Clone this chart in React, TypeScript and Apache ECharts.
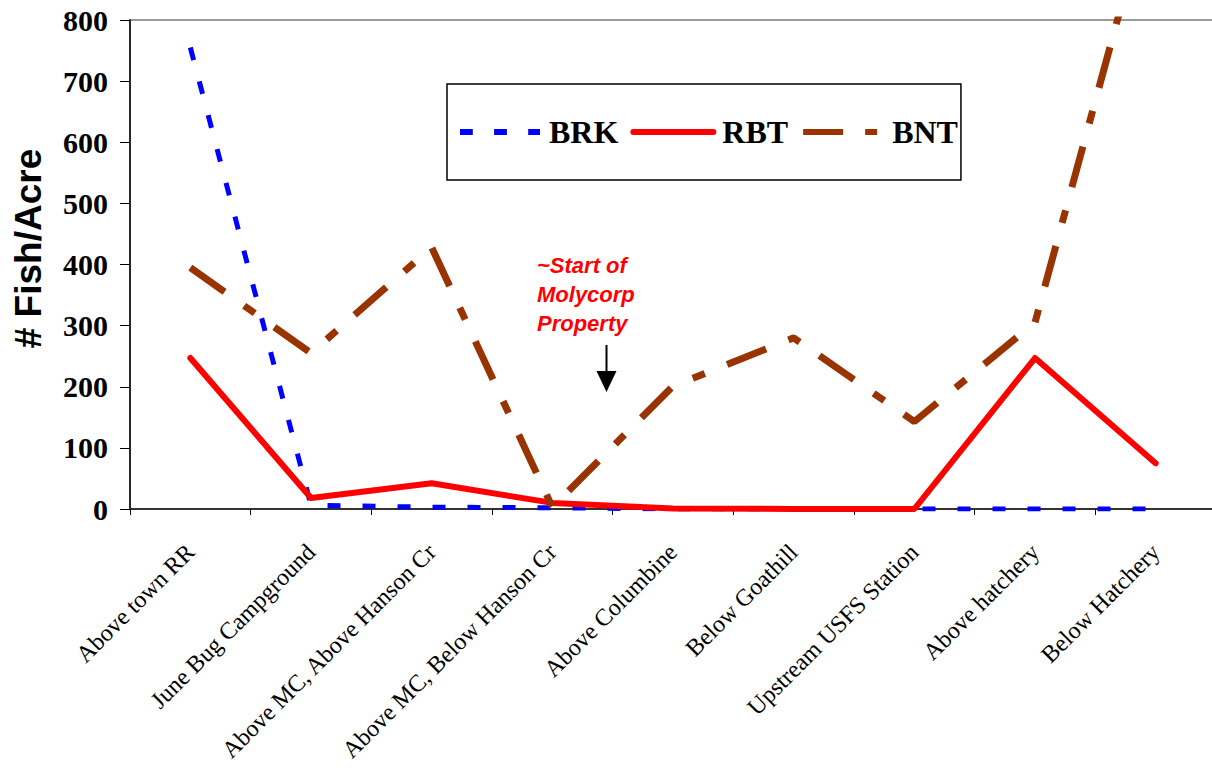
import React, { useEffect, useRef } from "react";
import * as echarts from "echarts";

const categories = [
  "Above town RR",
  "June Bug Campground",
  "Above MC, Above Hanson Cr",
  "Above MC, Below Hanson Cr",
  "Above Columbine",
  "Below Goathill",
  "Upstream USFS Station",
  "Above hatchery",
  "Below Hatchery",
];

const brkValues = [755, 6, 3, 2, 0, 0, 0, 0, 0];
const rbtValues = [247, 18, 42, 10, 1, 0, 0, 247, 75];
const bntValues = [395, 255, 428, 3, 201, 280, 143, 305, 1030];

const seriesNames = ["BRK", "RBT", "BNT"];
const yTicks = { min: 0, max: 800, interval: 100 };
const yTitle = "# Fish/Acre";
const annotation = "~Start of\nMolycorp\nProperty";

const BLUE = "#0000ff";
const RED = "#ff0000";
const BROWN = "#993300";

export default function App() {
  const ref = useRef<HTMLDivElement>(null);

  useEffect(() => {
    if (!ref.current) return;
    const chart = echarts.init(ref.current, undefined, { renderer: "svg" });
    const option: any = {
      animation: false,
      backgroundColor: "#ffffff",
      grid: {
        left: 130,
        top: 20,
        width: 1086,
        height: 489,
        containLabel: false,
        outerBoundsMode: "none",
        show: true,
        borderColor: "#9a9a9a",
        borderWidth: 2,
        backgroundColor: "transparent",
      },
      xAxis: {
        type: "category",
        data: categories,
        boundaryGap: true,
        axisLine: { show: true, lineStyle: { color: "#333", width: 2 } },
        axisTick: { show: true, length: 6, lineStyle: { color: "#000", width: 1 } },
        axisLabel: {
          rotate: 45,
          interval: 0,
          margin: 39,
          fontFamily: "Liberation Serif",
          fontSize: 24,
          color: "#000",
        },
        splitLine: { show: false },
      },
      yAxis: {
        type: "value",
        min: yTicks.min,
        max: yTicks.max,
        interval: yTicks.interval,
        axisLine: { show: true, lineStyle: { color: "#000", width: 1.5 } },
        axisTick: { show: true, length: 10, lineStyle: { color: "#000", width: 1 } },
        axisLabel: {
          margin: 22,
          fontFamily: "Liberation Serif",
          fontWeight: "bold",
          fontSize: 30,
          color: "#000",
        },
        splitLine: { show: false },
      },
      legend: {
        left: 447,
        top: 84,
        orient: "horizontal",
        padding: [32, 3, 32, 10],
        itemWidth: 80,
        itemHeight: 14,
        itemGap: 12,
        borderColor: "#000",
        borderWidth: 1.5,
        backgroundColor: "#fff",
        textStyle: {
          fontFamily: "Liberation Serif",
          fontWeight: "bold",
          fontSize: 32,
          color: "#000",
          padding: [0, 0, 0, 4],
        },
        data: [
          {
            name: seriesNames[0],
            lineStyle: { width: 6, color: BLUE, type: [12.8, 21.3], cap: "butt" },
            itemStyle: { opacity: 0 },
          },
          {
            name: seriesNames[1],
            lineStyle: { width: 6, color: RED, type: "solid", cap: "round" },
            itemStyle: { opacity: 0 },
          },
          {
            name: seriesNames[2],
            lineStyle: { width: 6, color: BROWN, type: [40, 22, 12, 22], cap: "butt" },
            itemStyle: { opacity: 0 },
          },
        ],
      },
      series: [
        {
          name: seriesNames[0],
          type: "line",
          data: brkValues,
          symbol: "none",
          color: BLUE,
          lineStyle: { color: BLUE, width: 5, type: [13, 22], cap: "butt" },
          z: 2,
        },
        {
          name: seriesNames[1],
          type: "line",
          data: rbtValues,
          symbol: "none",
          color: RED,
          lineStyle: { color: RED, width: 6, type: "solid", cap: "round", join: "round" },
          z: 3,
        },
        {
          name: seriesNames[2],
          type: "line",
          data: bntValues,
          symbol: "none",
          color: BROWN,
          lineStyle: { color: BROWN, width: 7, type: [42, 24, 13, 24], cap: "butt" },
          z: 4,
        },
      ],
      graphic: [
        {
          type: "text",
          x: 28.5,
          y: 248.5,
          rotation: Math.PI / 2,
          style: {
            text: yTitle,
            fontFamily: "Liberation Sans",
            fontWeight: "bold",
            fontSize: 37,
            fill: "#000",
            align: "center",
            verticalAlign: "middle",
          },
        },
        {
          type: "text",
          x: 537,
          y: 251,
          style: {
            text: annotation,
            fontFamily: "Liberation Sans",
            fontWeight: "bold",
            fontStyle: "italic",
            fontSize: 22,
            lineHeight: 29,
            fill: RED,
            align: "left",
            verticalAlign: "top",
          },
        },
        {
          type: "line",
          shape: { x1: 606.5, y1: 345, x2: 606.5, y2: 373 },
          style: { stroke: "#000", lineWidth: 2 },
        },
        {
          type: "polygon",
          shape: { points: [[596.5, 371], [616.5, 371], [606.5, 392]] },
          style: { fill: "#000" },
        },
      ],
    };
    chart.setOption(option);
    return () => chart.dispose();
  }, []);

  return (
    <div
      ref={ref}
      style={{ position: "fixed", left: 0, top: 0, width: 1212, height: 768, background: "#fff" }}
    />
  );
}
